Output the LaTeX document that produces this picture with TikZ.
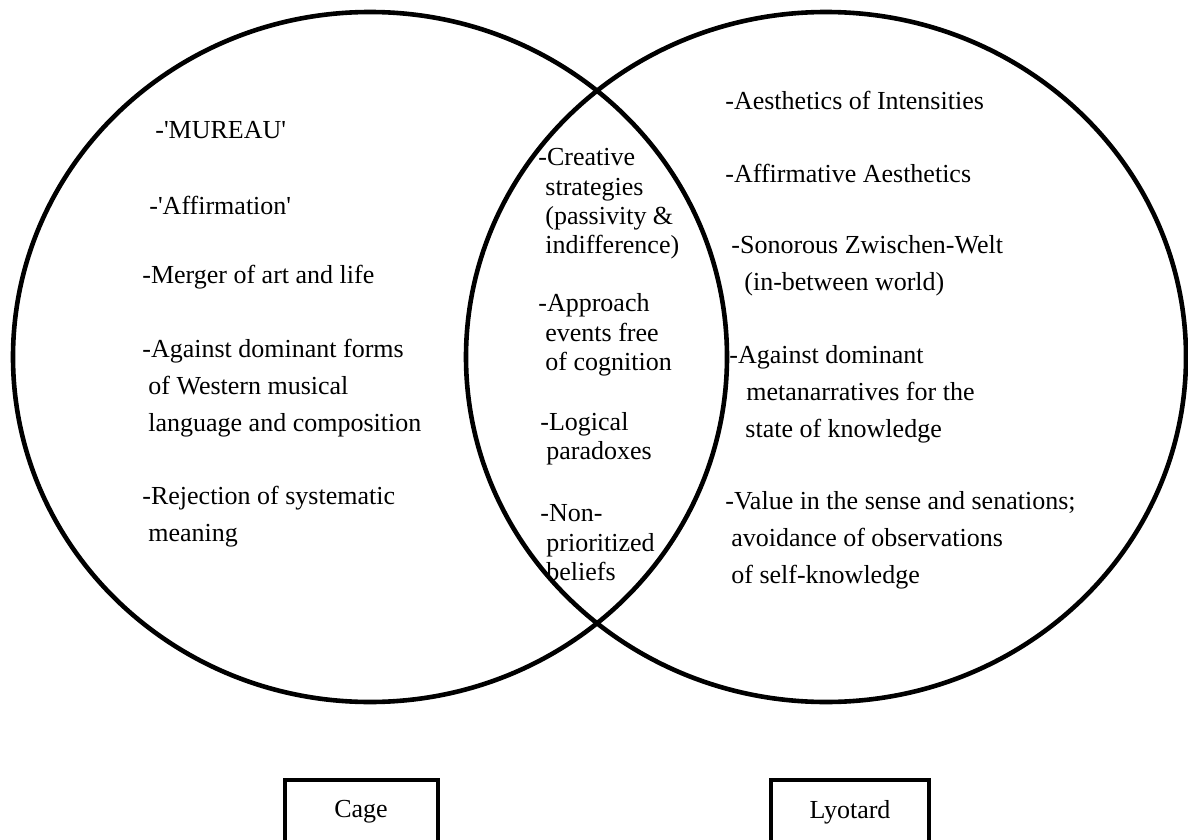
\documentclass[tikz,border=0pt]{standalone}
\usepackage{fontspec}
\setmainfont{Liberation Serif}[Ligatures=TeXOff]
\usetikzlibrary{positioning}
\tikzset{
  venn/.style={line width=2.3pt},
  item/.style={anchor=west,align=left,inner sep=0pt,font=\fontsize{13pt}{18.4pt}\selectfont},
  lensitem/.style={item,font=\fontsize{13pt}{14.7pt}\selectfont},
  namebox/.style={draw,line width=2pt,minimum height=32pt,inner sep=0pt,font=\fontsize{13pt}{15pt}\selectfont}
}

\begin{document}
\begin{tikzpicture}[x=0.5pt,y=-0.5pt]
    \useasboundingbox (0,0) rectangle (1188,840);
    % --- los dos circulos ---
    \draw[venn] (370,357) ellipse [x radius=357,y radius=345];
    \draw[venn] (826,357) ellipse [x radius=360,y radius=345];
    % --- Cage ---
    \node[item] (mureau) at (155,130) {-'MUREAU'};
    \node[item] (affirm) at (149,205) {-'Affirmation'};
    \node[item] (merger) at (142,277) {-Merger of art and life};
    \node[item] (western) at (142,388) {-Against dominant forms\\\hspace*{3pt}of Western musical\\\hspace*{3pt}language and composition};
    \node[item] (reject) at (142,517) {-Rejection of systematic\\\hspace*{3pt}meaning};
    % --- interseccion ---
    \node[lensitem] (creative) at (538,204) {-Creative\\\hspace*{3.5pt}strategies\\\hspace*{3.5pt}(passivity \&\\\hspace*{3.5pt}indifference)};
    \node[lensitem] (approach) at (538,335) {-Approach\\\hspace*{3.5pt}events free\\\hspace*{3.5pt}of cognition};
    \node[lensitem] (logical) at (540,439) {-Logical\\\hspace*{3pt}paradoxes};
    \node[lensitem] (beliefs) at (540,543) {-Non-\\\hspace*{3pt}prioritized\\\hspace*{3pt}beliefs};
    % --- Lyotard ---
    \node[item] (intens) at (725,100) {-Aesthetics of Intensities};
    \node[item] (affaes) at (725,173) {-Affirmative Aesthetics};
    \node[item] (zwischen) at (731,266) {-Sonorous Zwischen-Welt\\\hspace*{6.5pt}(in-between world)};
    \node[item] (metanarr) at (729,394) {-Against dominant\\\hspace*{8.5pt}metanarratives for the\\\hspace*{8pt}state of knowledge};
    \node[item] (sensation) at (725,540) {-Value in the sense and senations;\\\hspace*{3pt}avoidance of observations\\\hspace*{3pt}of self-knowledge};
    % --- etiquetas (cortadas abajo) ---
    \node[namebox,minimum width=76.5pt] (cage) at (361,812) {Cage};
    \node[namebox,minimum width=79pt] (lyotard) at (850,812) {Lyotard};
\end{tikzpicture}
\end{document}
